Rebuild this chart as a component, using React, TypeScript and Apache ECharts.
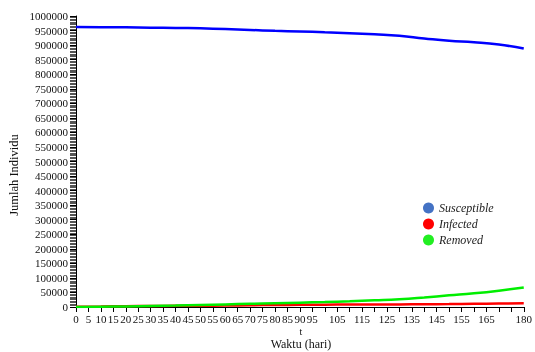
import React, { useEffect, useRef } from "react";
import * as echarts from "echarts";

const days = [0, 10, 20, 30, 40, 50, 60, 70, 80, 90, 100, 110, 120, 130, 140, 150, 160, 170, 180];
const susceptible = [962000, 961500, 961000, 960000, 959000, 957500, 955000, 952000, 949000, 947000, 944000, 941000, 937000, 932000, 923000, 915000, 910000, 902000, 888000];
const infected = [1000, 2000, 3000, 3500, 4000, 4500, 5000, 6000, 7000, 7500, 8000, 8500, 9000, 9000, 9500, 10000, 11000, 12000, 13000];
const removed = [0, 1000, 2000, 3500, 5000, 7000, 9000, 11000, 13000, 15000, 17000, 19500, 23000, 27000, 33000, 40000, 47000, 56000, 67000];
const seriesNames = ["Susceptible", "Infected", "Removed"];
const lineColors = ["#0000ff", "#ff0000", "#00ee00"];
const legendColors = ["#4472c4", "#ff0000", "#22ee22"];
const xTitle = "t";
const xName = "Waktu (hari)";
const yName = "Jumlah Individu";

const FONT = "'Liberation Serif', 'Times New Roman', serif";

export default function App() {
  const ref = useRef<HTMLDivElement>(null);
  useEffect(() => {
    const chart = echarts.init(ref.current!, undefined, { renderer: "svg" });
    const all = [susceptible, infected, removed];
    chart.setOption({
      animation: false,
      textStyle: { fontFamily: FONT },
      grid: { left: 76, right: 7, top: 16, bottom: 45, containLabel: false },
      legend: {
        orient: "vertical",
        left: 418,
        top: 197,
        itemGap: 4,
        itemWidth: 11,
        itemHeight: 11,
        icon: "circle",
        textStyle: { fontFamily: FONT, fontStyle: "italic", fontSize: 12, color: "#222" },
        data: seriesNames.map((n, i) => ({ name: n, itemStyle: { color: legendColors[i] } })),
      },
      graphic: [
        { type: "text", x: 301, y: 331, style: { text: xTitle, font: `10px ${FONT}`, fill: "#111", textAlign: "center", textVerticalAlign: "middle" } },
        { type: "text", x: 301, y: 344, style: { text: xName, font: `12px ${FONT}`, fill: "#111", textAlign: "center", textVerticalAlign: "middle" } },
        { type: "text", x: 14, y: 175, rotation: Math.PI / 2, style: { text: yName, font: `12.5px ${FONT}`, fill: "#111", textAlign: "center", textVerticalAlign: "middle" } },
      ],
      xAxis: {
        type: "value",
        min: 0,
        max: 180,
        interval: 5,
        axisLine: { lineStyle: { color: "#000", width: 1 } },
        axisTick: { show: true, length: 5, lineStyle: { color: "#000" } },
        splitLine: { show: false },
        axisLabel: {
          margin: 6,
          fontSize: 11,
          fontFamily: FONT,
          color: "#111",
          showMaxLabel: true,
          formatter: (v: number) => {
            if (v <= 95) return String(v);
            if (v === 180) return "180";
            if (v < 170 && v % 10 === 5) return String(v);
            return "";
          },
        },
      },
      yAxis: {
        type: "value",
        min: 0,
        max: 1000000,
        interval: 50000,
        axisLine: { show: true, lineStyle: { color: "#000", width: 1 } },
        axisTick: { show: true, length: 6, lineStyle: { color: "#000" } },
        minorTick: { show: true, splitNumber: 10, length: 6, lineStyle: { color: "#555" } },
        splitLine: { show: false },
        axisLabel: { margin: 8, fontSize: 11, fontFamily: FONT, color: "#111", formatter: (v: number) => String(v) },
      },
      series: all.map((arr, i) => ({
        name: seriesNames[i],
        type: "line",
        smooth: true,
        showSymbol: false,
        symbol: "none",
        data: days.map((d, j) => [d, arr[j]]),
        lineStyle: { color: lineColors[i], width: 2.5 },
        itemStyle: { color: legendColors[i] },
      })),
    });
    return () => chart.dispose();
  }, []);
  return <div ref={ref} style={{ position: "fixed", left: 0, top: 0, width: 535, height: 352 }} />;
}
